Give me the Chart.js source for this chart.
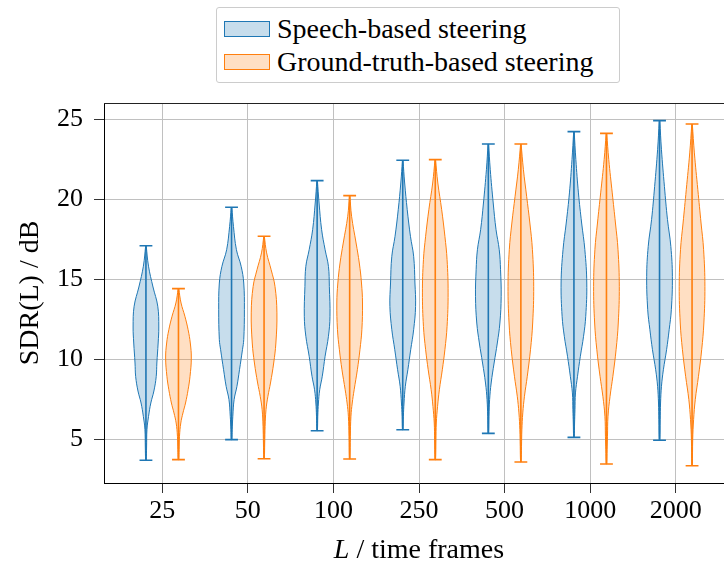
<!DOCTYPE html>
<html>
<head>
<meta charset="utf-8">
<script src="https://cdn.jsdelivr.net/npm/chart.js@4.4.0/dist/chart.umd.min.js"></script>
<style>
  body { margin: 0; background: #fff; overflow: hidden; }
  .stage { position: relative; width: 724px; height: 565px; overflow: hidden; }
  #violinChart { position: absolute; left: 0; top: 0; }
  .legend {
    position: absolute; left: 216px; top: 7px; width: 404px; height: 76px;
    box-sizing: border-box; border: 1px solid #cccccc; border-radius: 3px;
    background: #fff; padding-top: 4px;
    font-family: "Liberation Serif", serif; font-size: 28px; color: #000;
  }
  .legend-row { display: flex; align-items: center; height: 33px; white-space: nowrap; }
  .swatch { width: 46px; height: 16px; box-sizing: border-box; margin: 0 7px 0 7px; }
  .swatch.speech { background: rgba(31, 119, 180, 0.25); border: 1px solid #1f77b4; }
  .swatch.truth { background: rgba(255, 127, 14, 0.25); border: 1px solid #ff7f0e; }
  .x-title {
    position: absolute; left: 269px; top: 533px; width: 300px; text-align: center;
    font-family: "Liberation Serif", serif; font-size: 28px; line-height: 32px; color: #000;
  }
</style>
</head>
<body>
<div class="stage">
  <canvas id="violinChart" width="734" height="565"></canvas>
  <div class="legend">
    <div class="legend-row"><span class="swatch speech"></span>Speech-based steering</div>
    <div class="legend-row"><span class="swatch truth"></span>Ground-truth-based steering</div>
  </div>
  <div class="x-title"><i>L</i> / time frames</div>
</div>
<script>
/******************************************* chart data **/
const frameLabels = ["25", "50", "100", "250", "500", "1000", "2000"];
const yTicks = [5, 10, 15, 20, 25];

// whisker ends per frame length (dB)
const speechMin = [3.67, 4.96, 5.52, 5.58, 5.35, 5.1, 4.92];
const speechMax = [17.08, 19.48, 21.15, 22.42, 23.44, 24.21, 24.9];
const truthMin = [3.71, 3.77, 3.75, 3.71, 3.56, 3.44, 3.33];
const truthMax = [14.4, 17.67, 20.21, 22.46, 23.44, 24.1, 24.69];

// density profiles, [SDR, relative density], top to bottom
const speechProfiles = [
  [[15.8, 0.2], [14.5, 0.55], [13.3, 0.92], [12.0, 1.0], [11.0, 0.95], [9.75, 0.85], [8.9, 0.8], [8.0, 0.62], [7.25, 0.38], [6.4, 0.2], [5.6, 0.08], [4.5, 0.05]],
  [[18.29, 0.15], [16.83, 0.38], [15.79, 0.75], [14.75, 0.95], [13.08, 1.0], [11.21, 0.95], [10.58, 0.85], [9.33, 0.62], [8.29, 0.42], [7.46, 0.2], [6.42, 0.1], [5.58, 0.05]],
  [[19.75, 0.15], [18.08, 0.35], [16.83, 0.62], [15.79, 0.88], [14.54, 0.95], [12.67, 1.0], [11.42, 0.88], [10.17, 0.62], [8.92, 0.4], [8.08, 0.2], [7.25, 0.1], [6.42, 0.05]],
  [[21.0, 0.15], [19.33, 0.35], [17.67, 0.6], [16.42, 0.85], [14.75, 0.95], [13.29, 1.0], [11.83, 0.85], [10.58, 0.62], [9.33, 0.4], [8.29, 0.2], [7.25, 0.1], [6.42, 0.05]],
  [[21.83, 0.15], [19.75, 0.38], [18.08, 0.6], [16.83, 0.85], [15.58, 0.95], [13.92, 1.0], [12.25, 0.9], [11.0, 0.7], [9.75, 0.45], [8.5, 0.22], [7.46, 0.1], [6.42, 0.05]],
  [[22.46, 0.15], [20.38, 0.35], [18.5, 0.6], [16.83, 0.85], [14.75, 1.0], [12.67, 0.92], [11.42, 0.75], [10.17, 0.5], [8.92, 0.28], [7.88, 0.12], [6.83, 0.08], [6.0, 0.05]],
  [[23.08, 0.15], [20.79, 0.38], [18.71, 0.62], [17.04, 0.88], [15.17, 1.0], [13.08, 0.92], [11.83, 0.75], [10.58, 0.55], [9.33, 0.3], [8.29, 0.15], [7.25, 0.08], [6.21, 0.05]]
];
const truthProfiles = [
  [[13.5, 0.2], [12.67, 0.5], [11.83, 0.75], [11.0, 0.92], [10.06, 1.0], [8.92, 0.9], [8.08, 0.75], [7.25, 0.55], [6.63, 0.35], [6.0, 0.18], [5.17, 0.08], [4.33, 0.05]],
  [[16.63, 0.2], [15.58, 0.55], [14.54, 0.85], [12.88, 1.0], [11.0, 0.92], [9.75, 0.75], [8.5, 0.5], [7.67, 0.3], [6.83, 0.15], [5.79, 0.08], [4.75, 0.05]],
  [[18.92, 0.15], [17.25, 0.5], [16.0, 0.75], [14.75, 0.92], [13.5, 1.0], [11.83, 0.95], [10.58, 0.8], [9.33, 0.6], [8.08, 0.35], [7.25, 0.2], [6.42, 0.1], [5.17, 0.05]],
  [[21.0, 0.2], [19.33, 0.5], [17.67, 0.75], [16.21, 0.92], [14.13, 1.0], [12.04, 0.92], [10.58, 0.75], [9.33, 0.55], [8.08, 0.32], [7.04, 0.18], [6.0, 0.08], [4.96, 0.05]],
  [[21.83, 0.2], [20.17, 0.45], [18.5, 0.7], [16.83, 0.9], [14.54, 1.0], [12.25, 0.92], [10.58, 0.75], [8.92, 0.5], [7.67, 0.28], [6.63, 0.15], [5.58, 0.08], [4.54, 0.05]],
  [[22.46, 0.18], [20.38, 0.45], [18.5, 0.7], [16.83, 0.9], [14.54, 1.0], [12.25, 0.92], [10.58, 0.75], [8.92, 0.5], [7.67, 0.28], [6.42, 0.12], [5.17, 0.08], [4.33, 0.05]],
  [[22.88, 0.18], [20.58, 0.45], [18.5, 0.7], [16.83, 0.9], [14.54, 1.0], [12.25, 0.92], [10.58, 0.75], [8.92, 0.5], [7.46, 0.25], [6.21, 0.12], [4.96, 0.05]]
];

/******************************************* violin geometry **/
const halfWidth = 0.15; // half of the violin width, in category units
const capHalf = 0.075;
const tipDensity = 0.02;

const series = [
  { mins: speechMin, maxs: speechMax, profiles: speechProfiles, shift: -0.19, line: "#1f77b4", fill: "rgba(31, 119, 180, 0.25)" },
  { mins: truthMin, maxs: truthMax, profiles: truthProfiles, shift: 0.19, line: "#ff7f0e", fill: "rgba(255, 127, 14, 0.25)" }
];

// right side top->bottom, then left side bottom->top
function outlinePoints(center, min, max, profile) {
  const side = [[max, tipDensity], ...profile, [min, tipDensity]];
  const right = side.map(([v, d]) => ({ x: center + d * halfWidth, y: v }));
  const left = side.slice().reverse().map(([v, d]) => ({ x: center - d * halfWidth, y: v }));
  return right.concat(left);
}

// bottom cap, centre bar, top cap as one polyline
function barPoints(center, min, max) {
  return [
    { x: center - capHalf, y: min }, { x: center + capHalf, y: min }, { x: center, y: min },
    { x: center, y: max }, { x: center - capHalf, y: max }, { x: center + capHalf, y: max }
  ];
}

const datasets = [];
series.forEach((s) => {
  frameLabels.forEach((_, i) => {
    const center = i + s.shift;
    datasets.push({
      data: outlinePoints(center, s.mins[i], s.maxs[i], s.profiles[i]),
      borderColor: s.line,
      borderWidth: 1,
      backgroundColor: s.fill,
      fill: "shape",
      tension: 0.4,
      pointRadius: 0,
      order: 1
    });
    datasets.push({
      data: barPoints(center, s.mins[i], s.maxs[i]),
      borderColor: s.line,
      borderWidth: 1.6,
      fill: false,
      tension: 0,
      pointRadius: 0,
      order: 0
    });
  });
});

/******************************************* chart **/
const serif = "'Liberation Serif', serif";

// top and right spines
const frameLines = {
  id: "frameLines",
  afterDraw(chart) {
    const { ctx, chartArea: a } = chart;
    ctx.save();
    ctx.strokeStyle = "#222";
    ctx.lineWidth = 1;
    ctx.beginPath();
    ctx.moveTo(a.left, a.top + 0.5);
    ctx.lineTo(a.right, a.top + 0.5);
    ctx.moveTo(a.right - 0.5, a.top);
    ctx.lineTo(a.right - 0.5, a.bottom);
    ctx.stroke();
    ctx.restore();
  }
};

const ctx = document.getElementById("violinChart");
new Chart(ctx, {
  type: "line",
  data: { datasets },
  options: {
    responsive: false,
    animation: false,
    layout: { padding: { top: 103, left: 0, right: 0, bottom: 0 } },
    plugins: { legend: { display: false }, tooltip: { enabled: false } },
    scales: {
      x: {
        type: "linear",
        min: -0.68,
        max: 6.68,
        afterFit: (scale) => { scale.height = 82; },
        afterBuildTicks: (scale) => { scale.ticks = frameLabels.map((_, i) => ({ value: i })); },
        ticks: {
          callback: (value) => frameLabels[Math.round(value)],
          font: { family: serif, size: 26 },
          color: "#000",
          padding: 3,
          maxRotation: 0
        },
        grid: { color: "#c0c0c0", lineWidth: 1, tickLength: 10, tickColor: "#333" },
        border: { color: "#000", width: 1 }
      },
      y: {
        min: 2.25,
        max: 26,
        afterFit: (scale) => { scale.width = 104; },
        afterBuildTicks: (scale) => { scale.ticks = yTicks.map((v) => ({ value: v })); },
        ticks: {
          font: { family: serif, size: 26 },
          color: "#000",
          padding: 11
        },
        grid: { color: "#c0c0c0", lineWidth: 1, tickLength: 10, tickColor: "#333" },
        border: { color: "#000", width: 1 },
        title: {
          display: true,
          text: "SDR(L) / dB",
          font: { family: serif, size: 28 },
          color: "#000",
          padding: { top: 14, bottom: 0 }
        }
      }
    }
  },
  plugins: [frameLines]
});
</script>
</body>
</html>
